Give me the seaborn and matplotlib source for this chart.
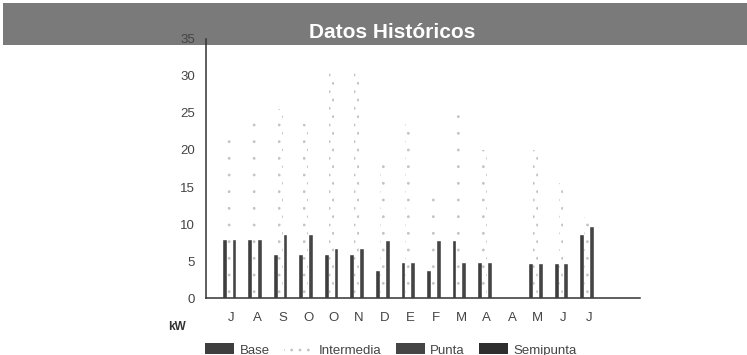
import matplotlib
matplotlib.use("Agg")
import matplotlib.pyplot as plt
from matplotlib.patches import Rectangle
import numpy as np
import pandas as pd
import seaborn as sns

# Monthly history, July to July
months = ["J", "A", "S", "O", "O", "N", "D", "E", "F", "M", "A", "A", "M", "J", "J"]
base = [8, 8, 6, 6, 6, 6, 3.8, 4.9, 3.8, 7.9, 4.9, 0, 4.8, 4.8, 8.6]
intermedia = [22, 25, 25.5, 23.5, 31, 31, 18, 24, 13.5, 25, 20, 0, 20, 15.5, 11]
punta = [8, 8, 8.7, 8.7, 6.8, 6.8, 7.9, 4.9, 7.9, 4.9, 4.9, 0, 4.8, 4.8, 9.7]
semipunta = [0, 0, 0, 0, 0, 0, 0, 0, 0, 0, 0, 0, 0, 0, 0]
series_names = ["Base", "Intermedia", "Punta", "Semipunta"]
y_ticks = [0, 5, 10, 15, 20, 25, 30, 35]

rows = []
for name, vals in zip(series_names, [base, intermedia, punta, semipunta]):
    for i, v in enumerate(vals):
        rows.append({"pos": str(i), "Serie": name, "kW": v})
df = pd.DataFrame(rows)

sns.set_style("white")
plt.rcParams["font.family"] = ["Liberation Sans", "DejaVu Sans"]
plt.rcParams["hatch.linewidth"] = 0.8

fig = plt.figure(figsize=(7.47, 3.55), dpi=100)
W, H = 747, 355

# dark title band
fig.patches.append(Rectangle((3 / W, 1 - 45 / H), 744 / W, 42 / H,
                             transform=fig.transFigure, facecolor="#7a7a7a",
                             edgecolor="none", zorder=-5))
fig.text(392 / W, 1 - 33 / H, "Datos Históricos", color="white",
         fontsize=15, fontweight="bold", ha="center", va="center")

ax = fig.add_axes([206 / W, 1 - 298.3 / H, 434 / W, 259.7 / H])
ax.set_facecolor("none")
ax.set_zorder(2)

palette = {"Base": "#3e3e3e", "Intermedia": "#ffffff",
           "Punta": "#454545", "Semipunta": "#2e2e2e"}
order = [str(i) for i in range(len(months))]
sns.barplot(data=df, x="pos", y="kW", hue="Serie", order=order,
            hue_order=series_names, palette=palette, width=0.76,
            saturation=1, errorbar=None, ax=ax, legend=False)

# sparse dotted fill for the Intermedia series
for bar in ax.containers[1]:
    bar.set_facecolor("none")
    bar.set_edgecolor("#c4c4c4")
    bar.set_linewidth(0)
    bar.set_hatch("..")

ax.set_xlim(-1, 16)
ax.set_ylim(0, 35)
ax.set_xticks(range(-1, 17))
ax.set_xticklabels([""] + months + ["", ""])
ax.set_yticks(y_ticks)
ax.set_xlabel("")
ax.set_ylabel("")
for s in ["top", "right"]:
    ax.spines[s].set_visible(False)
for s in ["left", "bottom"]:
    ax.spines[s].set_color("#333333")
    ax.spines[s].set_linewidth(1.1)
ax.tick_params(axis="both", direction="out", length=4, width=1,
               color="#333333", labelsize=9.5, labelcolor="#444444")
ax.tick_params(axis="x", pad=6)
ax.tick_params(axis="y", pad=4)

fig.text(177 / W, 1 - 327 / H, "kW", fontsize=8.5, fontweight="bold",
         color="#333333", ha="center", va="center")

handles = []
for name in series_names:
    if name == "Intermedia":
        h = Rectangle((0, 0), 1, 1, facecolor="none", edgecolor="#c4c4c4",
                      linewidth=0, hatch="..")
    else:
        h = Rectangle((0, 0), 1, 1, facecolor=palette[name], edgecolor="none")
    handles.append(h)
fig.legend(handles, series_names, loc="center", bbox_to_anchor=(391 / W, 1 - 350 / H),
           ncol=4, frameon=False, fontsize=9.5, handlelength=2.2, handleheight=0.9,
           columnspacing=1.1, handletextpad=0.4, labelcolor="#444444")

fig.savefig("out.png", dpi=100)
